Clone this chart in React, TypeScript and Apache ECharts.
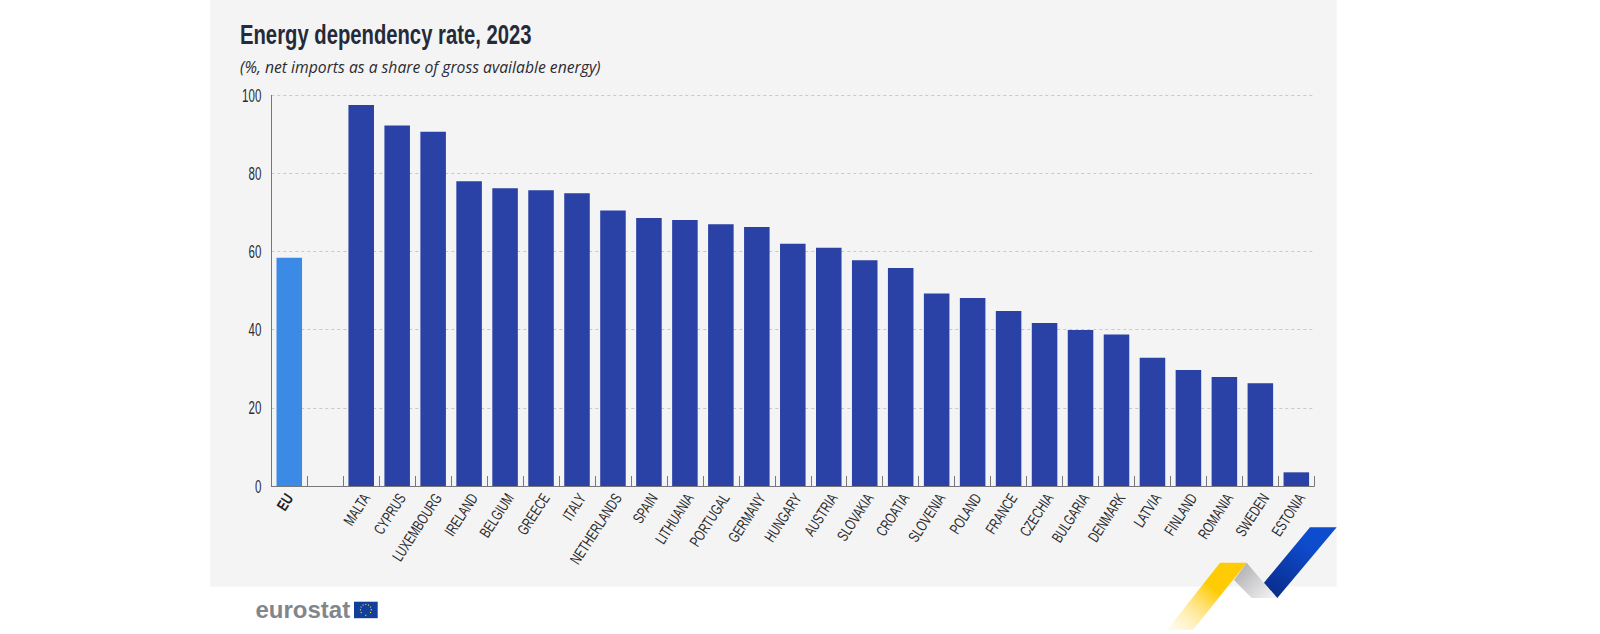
import React, { useEffect, useRef } from "react";
import * as echarts from "echarts";

const categories = ["EU", "", "MALTA", "CYPRUS", "LUXEMBOURG", "IRELAND", "BELGIUM", "GREECE", "ITALY", "NETHERLANDS", "SPAIN", "LITHUANIA", "PORTUGAL", "GERMANY", "HUNGARY", "AUSTRIA", "SLOVAKIA", "CROATIA", "SLOVENIA", "POLAND", "FRANCE", "CZECHIA", "BULGARIA", "DENMARK", "LATVIA", "FINLAND", "ROMANIA", "SWEDEN", "ESTONIA"];
const values = [58.4, null, 97.5, 92.3, 90.7, 78, 76.2, 75.7, 74.9, 70.5, 68.6, 68.1, 67, 66.3, 62, 61, 57.8, 55.8, 49.3, 48.1, 44.8, 41.7, 39.9, 38.8, 32.8, 29.7, 27.9, 26.3, 3.5];
const titleText = "Energy dependency rate, 2023";
const subtitleText = "(%, net imports as a share of gross available energy)";
const sans = "'Liberation Sans'";
const logoFont = "'Arimo','DejaVu Sans'";

const stars = Array.from({ length: 12 }, (_, i) => {
  const a = (i * Math.PI) / 6;
  return {
    type: "circle",
    shape: { cx: 365.8 + 5.4 * Math.cos(a), cy: 609.8 + 5.4 * Math.sin(a), r: 0.6 },
    style: { fill: "#f5d94a" },
    z: 5,
  };
});

const lin = (x: number, y: number, x2: number, y2: number, a: string, b: string) =>
  new echarts.graphic.LinearGradient(x, y, x2, y2, [
    { offset: 0, color: a },
    { offset: 1, color: b },
  ]);

// Squeeze a rendered svg text along its own baseline, about its anchor (no narrow font is installed).
function squeeze(el: Element, sx: number, dx = 0) {
  const nodes = [el, ...Array.from(el.querySelectorAll("tspan"))];
  nodes.forEach((n) => {
    const x = parseFloat(n.getAttribute("x") || "0");
    if (x) n.setAttribute("x", String(x / sx));
  });
  const t = el.getAttribute("transform") || "";
  el.setAttribute("transform", `translate(${dx},0) ${t} scale(${sx},1)`.trim());
}

export default function App() {
  const ref = useRef<HTMLDivElement>(null);
  useEffect(() => {
    const chart = echarts.init(ref.current!, null, { renderer: "svg" });
    chart.setOption({
      animation: false,
      backgroundColor: "#ffffff",
      title: {
        text: titleText,
        subtext: subtitleText,
        left: 240,
        top: 21,
        padding: 0,
        itemGap: 10,
        textStyle: { fontFamily: sans, fontWeight: "bold", fontSize: 27, color: "#252a3a" },
        subtextStyle: { fontFamily: "'Open Sans'", fontStyle: "italic", fontSize: 17, color: "#2b2b33" },
      },
      grid: { left: 271.3, right: 285.7, top: 95.3, bottom: 148 },
      xAxis: {
        type: "category",
        data: categories,
        axisLine: { lineStyle: { color: "#77777a", width: 1 } },
        axisTick: { show: true, inside: true, length: 10, lineStyle: { color: "#77777a" } },
        axisLabel: {
          interval: 0,
          rotate: 57,
          margin: 9,
          fontFamily: sans,
          fontSize: 15.5,
          color: "#2b2b30",
          formatter: (v: string) => (v === "EU" ? "{b|EU}" : v),
          rich: { b: { fontFamily: sans, fontSize: 15.5, fontWeight: "bold", color: "#1f1f25" } },
        },
      },
      yAxis: {
        type: "value",
        min: 0,
        max: 100,
        interval: 20,
        axisLine: { show: true, lineStyle: { color: "#77777a", width: 1 } },
        axisTick: { show: false },
        axisLabel: { margin: 10, fontFamily: sans, fontSize: 18, color: "#2b2b30" },
        splitLine: { show: true, lineStyle: { color: "#c8c8c8", type: [3, 3], width: 1 } },
      },
      series: [
        {
          type: "bar",
          barWidth: "71%",
          data: values.map((v, i) => ({
            value: v,
            itemStyle: { color: categories[i] === "EU" ? "#3a8ae6" : "#2a41a5" },
          })),
        },
      ],
      graphic: [
        { type: "rect", shape: { x: 210, y: 0, width: 1126.7, height: 586.7 }, style: { fill: "#f4f4f4" }, z: -10 },
        {
          type: "text",
          x: 255.5,
          y: 597,
          style: { text: "eurostat", fontFamily: logoFont, fontWeight: "bold", fontSize: 24, fill: "#83858c" },
          z: 5,
        },
        { type: "rect", shape: { x: 354, y: 601.7, width: 23.7, height: 16.5 }, style: { fill: "#123f9c" }, z: 5 },
        ...stars,
        {
          type: "polygon",
          shape: { points: [[1220, 562.7], [1246.7, 562.7], [1193, 630], [1167, 630]] },
          style: { fill: lin(0.6, 0.4, 0, 1, "#ffcb05", "rgba(255,235,170,0.15)") },
          z: 4,
        },
        {
          type: "polygon",
          shape: { points: [[1246.7, 562.7], [1276.7, 598], [1251.7, 598], [1234, 580]] },
          style: { fill: lin(0, 0, 1, 0.8, "#a8a8ac", "#f0f0f0") },
          z: 3,
        },
        {
          type: "polygon",
          shape: { points: [[1310, 527.3], [1336.7, 527.3], [1277.3, 598], [1264, 582.7]] },
          style: { fill: lin(0.7, 0.3, 0.2, 1, "#0e4cce", "#0a2d8c") },
          z: 4,
        },
      ],
    });
    ref.current!.querySelectorAll("text").forEach((el) => {
      const t = el.textContent || "";
      if (t === titleText) squeeze(el, 0.75);
      else if (t === subtitleText) squeeze(el, 0.925);
      else if (/^\d+$/.test(t)) squeeze(el, 0.64);
      else if (t === "EU") squeeze(el, 0.77);
      else if (categories.includes(t)) squeeze(el, 0.7, 5);
    });
    return () => chart.dispose();
  }, []);
  return <div ref={ref} style={{ position: "absolute", left: 0, top: 0, width: 1600, height: 634 }} />;
}
